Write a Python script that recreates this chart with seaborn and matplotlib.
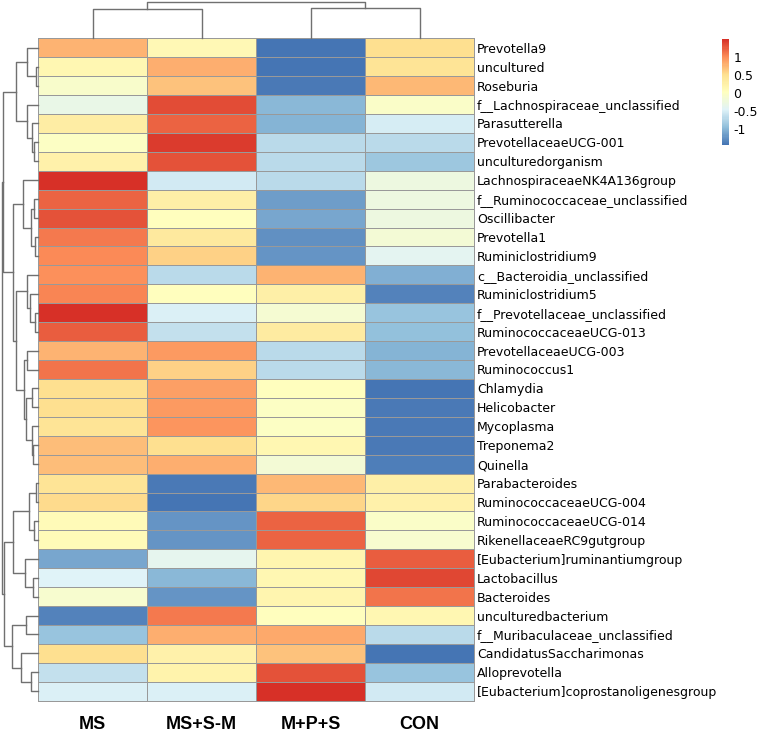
import numpy as np
import pandas as pd
import matplotlib
matplotlib.use("Agg")
import matplotlib.pyplot as plt
import seaborn as sns
from matplotlib.colors import LinearSegmentedColormap


# =====================================
# DATA (row z-scores)
# =====================================

groups = ["MS", "MS+S-M", "M+P+S", "CON"]

taxa = [
    "Prevotella9", "uncultured", "Roseburia",
    "f__Lachnospiraceae_unclassified", "Parasutterella",
    "PrevotellaceaeUCG-001", "unculturedorganism",
    "LachnospiraceaeNK4A136group", "f__Ruminococcaceae_unclassified",
    "Oscillibacter", "Prevotella1", "Ruminiclostridium9",
    "c__Bacteroidia_unclassified", "Ruminiclostridium5",
    "f__Prevotellaceae_unclassified", "RuminococcaceaeUCG-013",
    "PrevotellaceaeUCG-003", "Ruminococcus1", "Chlamydia",
    "Helicobacter", "Mycoplasma", "Treponema2", "Quinella",
    "Parabacteroides", "RuminococcaceaeUCG-004",
    "RuminococcaceaeUCG-014", "RikenellaceaeRC9gutgroup",
    "[Eubacterium]ruminantiumgroup", "Lactobacillus", "Bacteroides",
    "unculturedbacterium", "f__Muribaculaceae_unclassified",
    "CandidatusSaccharimonas", "Alloprevotella",
    "[Eubacterium]coprostanoligenesgroup",
]

ms = [0.78, 0.15, -0.07, -0.30, 0.30, 0.00, 0.25, 1.49, 1.20, 1.30,
      1.10, 1.02, 0.98, 1.05, 1.49, 1.25, 0.78, 1.13, 0.50, 0.50,
      0.45, 0.72, 0.72, 0.45, 0.55, 0.10, 0.10, -1.10, -0.45, -0.10,
      -1.32, -0.90, 0.50, -0.62, -0.47]

ms_s_m = [0.12, 0.80, 0.70, 1.33, 1.22, 1.42, 1.30, -0.55, 0.27, 0.05,
          0.38, 0.60, -0.68, 0.03, -0.47, -0.62, 0.92, 0.60, 0.90, 0.93,
          0.95, 0.50, 0.80, -1.40, -1.42, -1.20, -1.20, -0.35, -0.98, -1.20,
          1.10, 0.80, 0.25, 0.22, -0.47]

m_p_s = [-1.42, -1.41, -1.38, -0.98, -1.02, -0.70, -0.70, -0.70, -1.15, -1.10,
         -1.25, -1.22, 0.78, 0.28, -0.12, 0.35, -0.70, -0.68, 0.05, 0.00,
         0.00, 0.15, -0.15, 0.75, 0.56, 1.22, 1.20, 0.20, 0.15, 0.20,
         0.05, 0.82, 0.70, 1.30, 1.49]

con = [0.52, 0.46, 0.75, -0.05, -0.50, -0.68, -0.87, -0.25, -0.25, -0.25,
       -0.15, -0.38, -1.05, -1.33, -0.88, -0.92, -1.00, -0.97, -1.42, -1.38,
       -1.38, -1.40, -1.35, 0.27, 0.25, -0.05, -0.10, 1.25, 1.35, 1.12,
       0.17, -0.68, -1.42, -0.88, -0.55]

# row dendrogram: (height, left, right), leaves are row indices
row_a = (11.3, 0, (2.6, 1, 2))
row_b = (11.3, 3, (6.0, 4, (4.0, 5, 6)))
row_c1 = (15.3, 7, (7.3, (4.3, 8, 9), (3.3, 10, 11)))
row_c2 = (11.3, 12, (8.3, 13, (3.3, 14, 15)))
row_c3 = (11.3, 16, 17)
row_d = (12.3, (6.3, 18, 19), (6.6, 20, (5.0, 21, 22)))
row_e = (9.3, (2.6, 23, 24), (4.3, 25, 26))
row_f = (13.3, 27, (5.3, 28, 29))
row_g = (12.3, 30, 31)
row_h = (17.3, 32, (7.3, 33, 34))

row_top = (35.2, (22.3, row_a, row_b),
           (25.3, row_c1, (22.3, row_c2, (14.3, row_c3, row_d))))
row_bottom = (34.8, (25.3, row_e, row_f), (26.6, row_g, row_h))
row_tree = (36.8, row_top, row_bottom)

# column dendrogram
col_tree = (36.3, (29.0, 0, 1), (30.3, 2, 3))

cbar_ticks = [-1, -0.5, 0, 0.5, 1]
cbar_labels = ["-1", "-0.5", "0", "0.5", "1"]


df = pd.DataFrame(
    {"MS": ms, "MS+S-M": ms_s_m, "M+P+S": m_p_s, "CON": con},
    index=taxa
)[groups]


# =====================================
# COLORS
# =====================================

cmap = LinearSegmentedColormap.from_list(
    "rdylbu_rev",
    ["#4575B4", "#91BFDB", "#E0F3F8", "#FFFFBF",
     "#FEE090", "#FC8D59", "#D73027"],
    N=100
)

line_col = "#707070"


# =====================================
# LAYOUT (pixel based)
# =====================================

W, H = 758, 743
fig = plt.figure(figsize=(W / 100, H / 100), dpi=100)

hm_left, hm_right = 38.3, 474.0
hm_top, hm_bottom = 38.3, 700.7


def px_axes(x0, y0, x1, y1):
    return fig.add_axes([x0 / W, 1 - y1 / H, (x1 - x0) / W, (y1 - y0) / H])


ax_heat = px_axes(hm_left, hm_top, hm_right, hm_bottom)
ax_row = px_axes(0, hm_top, hm_left, hm_bottom)
ax_col = px_axes(hm_left, 0, hm_right, hm_top)
ax_cbar = px_axes(722, 39, 729.3, 145)


# =====================================
# HEATMAP
# =====================================

sns.heatmap(
    df,
    ax=ax_heat,
    cmap=cmap,
    vmin=-1.43,
    vmax=1.49,
    linewidths=0.7,
    linecolor="#999999",
    cbar_ax=ax_cbar,
    xticklabels=True,
    yticklabels=True
)

ax_heat.collections[0].set_clip_on(False)

ax_heat.yaxis.tick_right()
ax_heat.tick_params(axis="y", length=0, pad=2, labelsize=9)
plt.setp(ax_heat.get_yticklabels(), rotation=0, ha="left")

ax_heat.tick_params(axis="x", length=0, pad=11)
plt.setp(
    ax_heat.get_xticklabels(),
    rotation=0,
    fontsize=13,
    fontweight="bold",
    fontfamily="Liberation Sans"
)
ax_heat.set_xlabel("")
ax_heat.set_ylabel("")

cbar = ax_heat.collections[0].colorbar
cbar.outline.set_visible(False)
cbar.set_ticks(cbar_ticks)
cbar.set_ticklabels(cbar_labels)
cbar.ax.tick_params(length=0, pad=3, labelsize=9)


# =====================================
# DENDROGRAMS
# =====================================

def draw_tree(ax, node, orient):

    if isinstance(node, int):
        return node + 0.5, 0.0

    h, left, right = node

    p1, h1 = draw_tree(ax, left, orient)
    p2, h2 = draw_tree(ax, right, orient)

    if orient == "row":
        ax.plot([h1, h, h, h2], [p1, p1, p2, p2],
                color=line_col, lw=1.0, clip_on=False)
    else:
        ax.plot([p1, p1, p2, p2], [h1, h, h, h2],
                color=line_col, lw=1.0, clip_on=False)

    return (p1 + p2) / 2, h


draw_tree(ax_row, row_tree, "row")
ax_row.set_xlim(hm_left, 0)
ax_row.set_ylim(len(taxa), 0)
ax_row.axis("off")

draw_tree(ax_col, col_tree, "col")
ax_col.set_xlim(0, len(groups))
ax_col.set_ylim(0, hm_top)
ax_col.axis("off")


plt.savefig("out.png", dpi=100)
plt.close()
